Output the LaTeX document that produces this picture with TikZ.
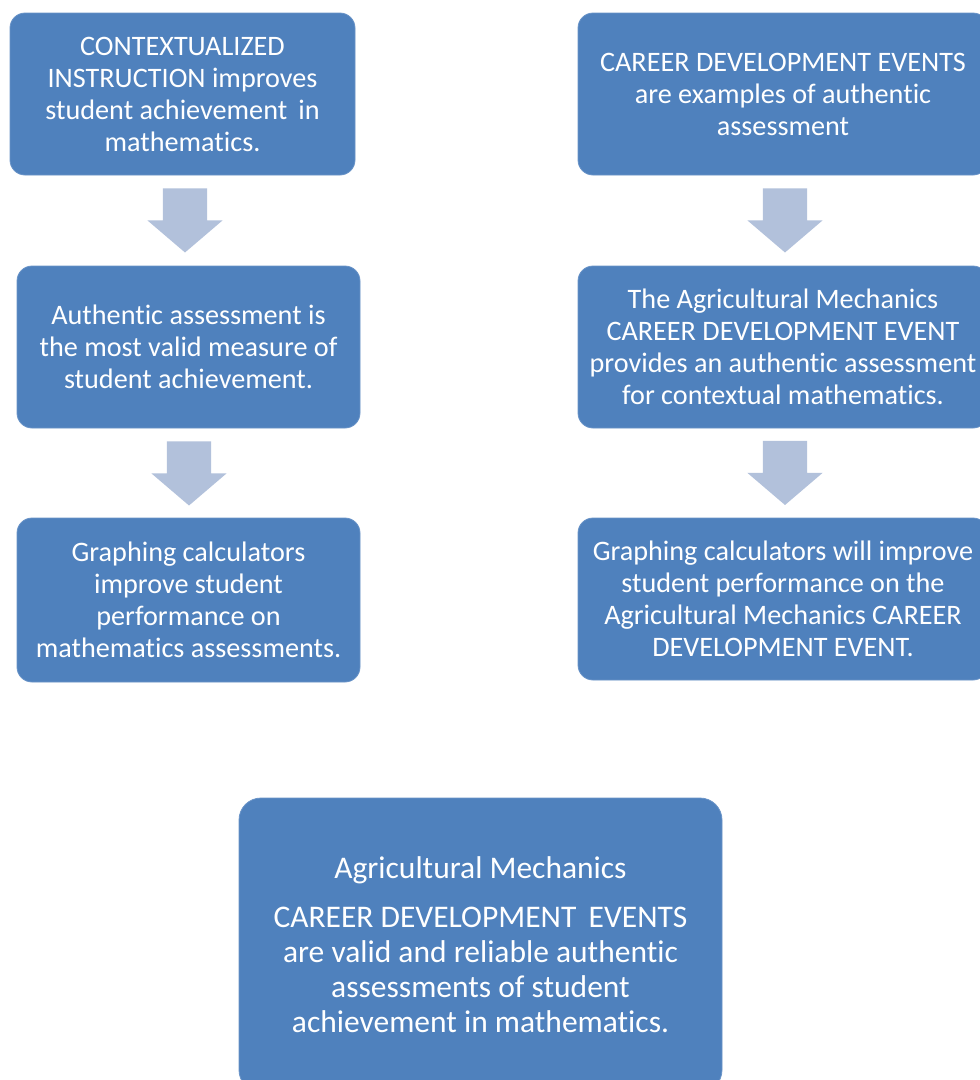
\documentclass[tikz,border=0pt]{standalone}
\usepackage{fontspec}
\setmainfont[Ligatures=NoCommon]{Carlito}
\usetikzlibrary{shapes.arrows}
\definecolor{boxblue}{HTML}{4F81BD}
\definecolor{boxedge}{HTML}{6A94C8}
\definecolor{arrowblue}{HTML}{B2C1DB}
\tikzset{
  card/.style={fill=boxblue, draw=boxedge, line width=0.8pt, rounded corners=15pt,
    text=white, align=center, inner sep=0pt,
    font=\fontsize{28.2}{32}\selectfont},
  bigcard/.style={card, rounded corners=22pt, font=\fontsize{31.5}{35}\selectfont},
  blockarrow/.style={single arrow, fill=arrowblue, draw=none, rotate=-90,
    inner xsep=0pt, inner ysep=22pt, minimum height=64pt,
    single arrow head extend=15.5pt, single arrow tip angle=99,
    single arrow head indent=0pt}
}
\begin{document}
\begin{tikzpicture}[x=1pt,y=-1pt]
\useasboundingbox (0,0) rectangle (980,1080);
\clip (0,0) rectangle (980,1080);
\fill[white] (0,0) rectangle (980,1080);

\node[card, minimum width=345pt, minimum height=162pt] (lt) at (182.5,94)
  {CONTEXTUALIZED\\INSTRUCTION improves\\student achievement\, in\\mathematics.};
\node[card, minimum width=343pt, minimum height=162pt] (lm) at (188.5,347)
  {Authentic assessment is\\the most valid measure of\\student achievement.};
\node[card, minimum width=343pt, minimum height=164pt] (lb) at (188.5,600)
  {Graphing calculators\\improve student\\performance on\\mathematics assessments.};

\node[card, minimum width=410pt, minimum height=162pt] (rt) at (783,94)
  {CAREER DEVELOPMENT EVENTS\\are examples of authentic\\assessment};
\node[card, minimum width=410pt, minimum height=162pt] (rm) at (783,347)
  {The Agricultural Mechanics\\CAREER DEVELOPMENT EVENT\\provides an authentic assessment\\for contextual mathematics.};
\node[card, minimum width=410pt, minimum height=162pt] (rb) at (783,599)
  {Graphing calculators will improve\\student performance on the\\Agricultural Mechanics CAREER\\DEVELOPMENT EVENT.};

\node[bigcard, minimum width=483pt, minimum height=294pt] (bc) at (480.5,945)
  {Agricultural Mechanics\\[14pt]CAREER DEVELOPMENT\, EVENTS\\are valid and reliable authentic\\assessments of student\\achievement in mathematics.};

\node[blockarrow] (a1) at (185,211) {};
\node[blockarrow] (a2) at (189,464) {};
\node[blockarrow] (a3) at (785,211) {};
\node[blockarrow] (a4) at (785,463.5) {};
\end{tikzpicture}
\end{document}
